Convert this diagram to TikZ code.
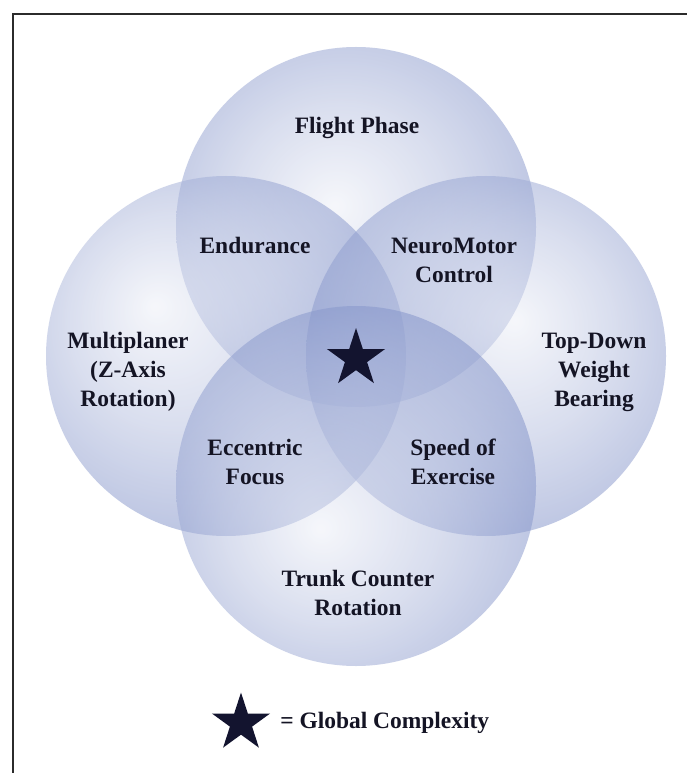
\documentclass[tikz,border=0pt]{standalone}
\usepackage{fontspec}
\setmainfont{Liberation Serif}
\usetikzlibrary{shapes.geometric}
\definecolor{vblue}{RGB}{118,136,196}
\definecolor{starnavy}{RGB}{19,20,47}
\definecolor{txtcol}{RGB}{20,20,36}
\definecolor{framecol}{RGB}{43,43,43}
\colorlet{vpale}{vblue!12!white}
\colorlet{vmid}{vblue!50!white}
\pgfdeclareradialshading{vennT}{\pgfpoint{-3bp}{3bp}}{color(0bp)=(vpale); color(15bp)=(vmid); color(32bp)=(vblue); color(50bp)=(vblue)}
\pgfdeclareradialshading{vennL}{\pgfpoint{-10bp}{7bp}}{color(0bp)=(vpale); color(15bp)=(vmid); color(32bp)=(vblue); color(50bp)=(vblue)}
\pgfdeclareradialshading{vennR}{\pgfpoint{4bp}{5bp}}{color(0bp)=(vpale); color(15bp)=(vmid); color(32bp)=(vblue); color(50bp)=(vblue)}
\pgfdeclareradialshading{vennB}{\pgfpoint{-5bp}{-6bp}}{color(0bp)=(vpale); color(15bp)=(vmid); color(32bp)=(vblue); color(50bp)=(vblue)}
\begin{document}
\begin{tikzpicture}[x=0.75pt,y=-0.75pt,
  lbl/.style={font=\fontsize{17.6}{21.75}\selectfont\bfseries, text=txtcol, align=center, inner sep=0pt},
  venn/.style={fill opacity=0.55},
  gstar/.style={star, star points=5, star point ratio=2.618, fill=starnavy, draw=none, inner sep=0pt, minimum size=45.75pt}]
\useasboundingbox (0,0) rectangle (686,773);
\fill[white] (0,0) rectangle (686,773);
\draw[framecol, line width=2pt] (13,14) rectangle (720,810);
% circles
\shade[shading=vennT, venn] (356,227) circle[radius=135pt];
\shade[shading=vennL, venn] (226,356) circle[radius=135pt];
\shade[shading=vennR, venn] (486,356) circle[radius=135pt];
\shade[shading=vennB, venn] (356,486) circle[radius=135pt];
% labels
\node[lbl] (flight) at (357,127.5) {Flight Phase};
\node[lbl] (endur) at (255,246) {Endurance};
\node[lbl] (neuro) at (454,260.5) {NeuroMotor\\Control};
\node[lbl] (multi) at (128,372) {Multiplaner\\(Z-Axis\\Rotation)};
\node[lbl] (topdown) at (594,372) {Top-Down\\Weight\\Bearing};
\node[lbl] (ecc) at (255,462) {Eccentric\\Focus};
\node[lbl] (speed) at (453,462) {Speed of\\Exercise};
\node[lbl] (trunk) at (358,592.5) {Trunk Counter\\Rotation};
\node[gstar] (cstar) at (356,358.5) {};
% legend
\node[gstar] (lstar) at (241,723) {};
\node[lbl, anchor=west] (legend) at (280,722.5) {= Global Complexity};
\end{tikzpicture}
\end{document}
